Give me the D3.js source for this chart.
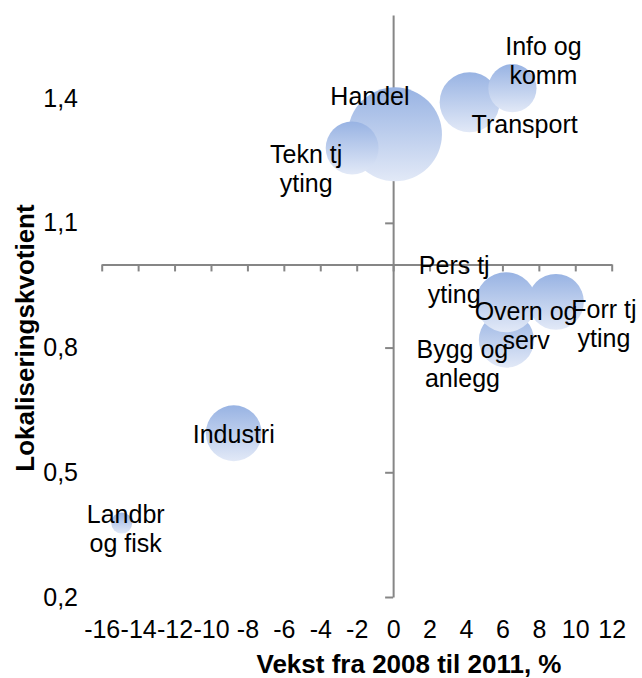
<!DOCTYPE html>
<html>
<head>
<meta charset="utf-8">
<script src="https://cdn.jsdelivr.net/npm/d3@7/dist/d3.min.js"></script>
<style>
  html, body { margin: 0; padding: 0; background: #fff; }
  svg { display: block; font-family: "Liberation Sans", Arial, sans-serif; }
  .axis-line path, .axis-line line { stroke: #868686; stroke-width: 2; }
  .axis-label text { font-size: 25px; fill: #000; }
  .axis-label path, .axis-label line { display: none; }
  .bubble-label { font-size: 25px; fill: #000; text-anchor: middle; }
  .title { font-size: 26px; font-weight: bold; fill: #000; }
</style>
</head>
<body>
<script>
// Sectors, drawn in this order
const sectors = ['Handel', 'Transport', 'Info og komm', 'Tekn tj yting', 'Industri',
  'Landbr og fisk', 'Pers tj yting', 'Bygg og anlegg', 'Overn og serv', 'Forr tj yting'];

// Vekst fra 2008 til 2011, %
const growth = [0.1, 4.2, 6.55, -2.25, -8.75, -14.9, 6.1, 6.22, 6.2, 8.94];

// Lokaliseringskvotient
const quotient = [1.313, 1.39, 1.424, 1.28, 0.594, 0.378, 0.91, 0.818, 0.909, 0.91];

// Bubble size (employment)
const size = [2210, 900, 580, 700, 780, 110, 800, 760, 900, 780];

// Label lines per sector
const labelLines = [['Handel'], ['Transport'], ['Info og', 'komm'], ['Tekn tj', 'yting'], ['Industri'],
  ['Landbr', 'og fisk'], ['Pers tj', 'yting'], ['Bygg og', 'anlegg'], ['Overn og', 'serv'], ['Forr tj', 'yting']];

// Tick values
const xTicks = d3.range(-16, 13, 2);
const yTicks = [0.2, 0.5, 0.8, 1.1, 1.4];

// Layout: label offsets from bubble centre (px), first baseline
const labelOffsets = [[-25, -29], [55, 31], [31, -33], [-46, 15], [0, 10],
  [4, 0], [-50, -28], [-44, 18], [20, 18], [48, 16]];

const width = 642, height = 678;

const svg = d3.select('body')
  .append('svg')
  .attr('width', width)
  .attr('height', height);

// Gradient fill for the bubbles
const grad = svg.append('defs')
  .append('linearGradient')
  .attr('id', 'bubble-fill')
  .attr('x1', 0).attr('y1', 0)
  .attr('x2', 0).attr('y2', 1);
grad.append('stop').attr('offset', '0%').attr('stop-color', '#98b3e3');
grad.append('stop').attr('offset', '100%').attr('stop-color', '#e2e9f7');

// Scales
const x = d3.scaleLinear().domain([-16, 12]).range([101.7, 611.7]);
const y = d3.scaleLinear().domain([0.2, 1.6]).range([597, 15]);
const r = d3.scaleSqrt().domain([0, 2210]).range([0, 47]);

const fmtY = d => d.toFixed(1).replace('.', ',');

// Axis lines crossing at (0, 1.0)
svg.append('g')
  .classed('axis-line', true)
  .attr('transform', `translate(0, ${y(1.0)})`)
  .call(d3.axisBottom(x)
    .tickValues(xTicks)
    .tickSize(7)
    .tickSizeOuter(0)
    .tickFormat(''));

svg.append('g')
  .classed('axis-line', true)
  .attr('transform', `translate(${x(0)}, 0)`)
  .call(d3.axisLeft(y)
    .tickValues(yTicks)
    .tickSize(8)
    .tickSizeOuter(0)
    .tickFormat(''));

// Tick labels sit at the low end of the chart
svg.append('g')
  .classed('axis-label', true)
  .attr('transform', 'translate(0, 620)')
  .call(d3.axisBottom(x)
    .tickValues(xTicks)
    .tickSize(0)
    .tickPadding(0)
    .tickFormat(d => String(d)))
  .selectAll('text')
  .attr('dy', '0.71em')
  .attr('y', 0);

svg.append('g')
  .classed('axis-label', true)
  .attr('transform', 'translate(78, 0)')
  .call(d3.axisLeft(y)
    .tickValues(yTicks)
    .tickSize(0)
    .tickPadding(0)
    .tickFormat(fmtY));

// Bubbles
const idx = d3.range(sectors.length);

svg.append('g')
  .selectAll('circle')
  .data(idx)
  .join('circle')
  .attr('cx', i => x(growth[i]))
  .attr('cy', i => y(quotient[i]))
  .attr('r', i => r(size[i]))
  .attr('fill', 'url(#bubble-fill)');

// Labels
const labels = svg.append('g')
  .selectAll('text')
  .data(idx)
  .join('text')
  .classed('bubble-label', true)
  .attr('x', i => x(growth[i]) + labelOffsets[i][0])
  .attr('y', i => y(quotient[i]) + labelOffsets[i][1]);

labels.selectAll('tspan')
  .data(i => labelLines[i].map(t => ({ t, i })))
  .join('tspan')
  .attr('x', d => x(growth[d.i]) + labelOffsets[d.i][0])
  .attr('dy', (d, j) => j === 0 ? 0 : 29)
  .text(d => d.t);

// Axis titles
svg.append('text')
  .classed('title', true)
  .attr('x', 409)
  .attr('y', 673)
  .attr('text-anchor', 'middle')
  .text('Vekst fra 2008 til 2011, %');

svg.append('text')
  .classed('title', true)
  .attr('transform', 'translate(34, 338) rotate(-90)')
  .attr('text-anchor', 'middle')
  .text('Lokaliseringskvotient');
</script>
</body>
</html>
